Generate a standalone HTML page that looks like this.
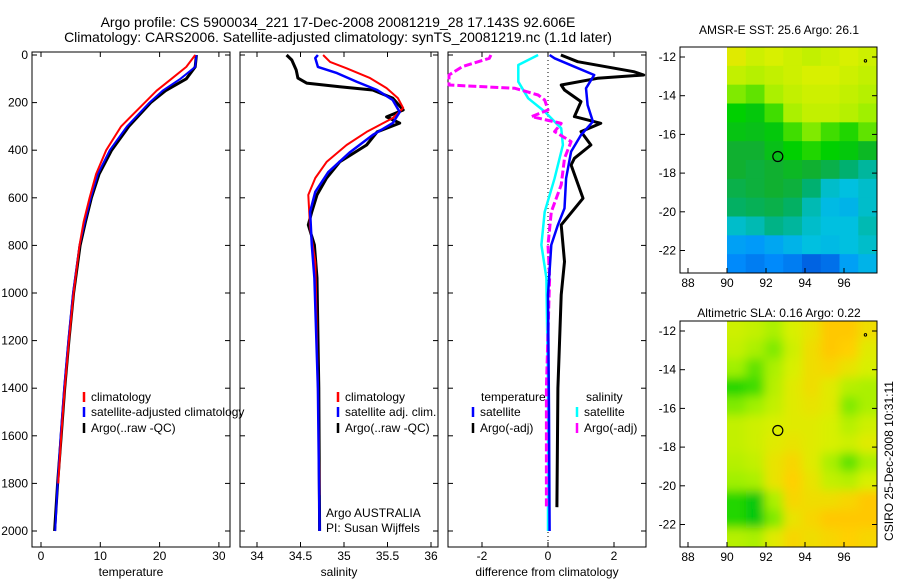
<!DOCTYPE html>
<html><head><meta charset="utf-8"><style>
body{margin:0;background:#fff;}
svg text{font-family:"Liberation Sans",sans-serif;}
</style></head><body>
<svg id="fig" width="900" height="580" xmlns="http://www.w3.org/2000/svg">
<rect width="900" height="580" fill="#fff"/>
<text x="338" y="27" font-size="14" text-anchor="middle">Argo profile: CS 5900034_221 17-Dec-2008 20081219_28 17.143S 92.606E</text>
<text x="338" y="42" font-size="14" text-anchor="middle">Climatology: CARS2006. Satellite-adjusted climatology: synTS_20081219.nc (1.1d later)</text>
<g id="g"></g>
<text x="779" y="34" font-size="12" text-anchor="middle">AMSR-E SST: 25.6 Argo: 26.1</text>
<text x="779" y="317" font-size="12" text-anchor="middle">Altimetric SLA: 0.16 Argo: 0.22</text>
<text transform="translate(893,461) rotate(-90)" font-size="12" text-anchor="middle">CSIRO 25-Dec-2008 10:31:11</text>
<text x="326" y="517" font-size="12">Argo AUSTRALIA</text>
<text x="326" y="532" font-size="12">PI: Susan Wijffels</text>
</svg>
<script>
// ---- data ----
const tDepth=[0,50,100,150,200,300,400,500,600,700,800,1000,1200,1400,1600,1800,2000];
const tClim=[26,24.5,22,19.5,17.5,13.5,11,9.3,8.2,7.2,6.5,5.5,4.7,4.0,3.4,2.9,null];
const tSat=[26.2,26,23.5,20.5,18.3,14.5,11.6,9.6,8.4,7.4,6.5,5.4,4.6,3.9,3.3,2.8,2.4];
const tArgo=[26.2,26,24.5,21,18.5,14.8,11.9,9.8,8.5,7.5,6.6,5.5,4.7,4.0,3.4,2.8,2.3];
const sArgoD=[0,21,63,97,118,133,147,181,231,260,286,323,378,449,517,588,659,714,798,937,1400,2000];
const sArgoV=[34.34,34.40,34.45,34.47,34.57,34.95,35.33,35.56,35.68,35.49,35.64,35.38,35.26,34.95,34.80,34.69,34.63,34.59,34.66,34.69,34.71,34.72];
const sClimD=[0,29,56,97,139,181,223,265,323,378,449,517,588,727,870,1400,1850];
const sClimV=[34.76,34.84,35.03,35.30,35.49,35.62,35.68,35.56,35.26,35.03,34.80,34.67,34.59,34.61,34.67,34.70,34.72];
const sSatD=[0,13,50,76,113,147,189,240,286,336,408,492,575,659,798,937,1400,2000];
const sSatV=[34.70,34.67,34.70,34.92,35.15,35.38,35.56,35.64,35.56,35.33,35.07,34.82,34.67,34.61,34.63,34.66,34.70,34.72];
const dTArgoD=[0,28,70,84,98,126,147,196,259,287,322,378,434,462,602,714,868,1008,1400,1900];
const dTArgoV=[0.39,0.9,2.6,2.9,1.5,0.4,0.5,1.0,0.8,1.6,1.0,1.3,0.8,0.7,1.06,0.4,0.5,0.4,0.3,0.27];
const dTSatD=[0,14,49,84,140,210,280,336,406,518,644,714,798,1008,1500,2000];
const dTSatV=[0.05,0.2,0.8,1.4,1.15,1.2,1.36,1.0,0.7,0.55,0.5,0.3,0.1,0.0,0.03,0.05];
const dSSatD=[0,42,112,182,238,308,378,518,659,798,937,1400,2000];
const dSSatV=[-0.3,-0.9,-0.9,-0.6,-0.1,0.4,0.45,0.2,-0.1,-0.2,-0.05,0.0,0.0];
const dSArgoD=[0,14,49,84,126,140,168,189,231,259,287,322,364,434,546,659,798,937,1400,1900];
const dSArgoV=[-1.73,-1.78,-2.6,-3,-3,-1.0,-0.3,-0.1,0,-0.5,0.4,0.2,0.7,0.5,0.4,0.1,0,0.05,-0.05,-0.05];
const depthTicks=[0,200,400,600,800,1000,1200,1400,1600,1800,2000];
const tTicks=[0,10,20,30];
const sTicks=[34,34.5,35,35.5,36];
const dTicks=[-2,0,2];
const lonTicks=[88,90,92,94,96];
const latTicks=[-12,-14,-16,-18,-20,-22];
const sst=[
[.8,.76,.78,.76,.74,.76,.78,.76],[.74,.72,.74,.76,.78,.78,.76,.74],[.66,.64,.7,.74,.76,.76,.74,.72],
[.58,.56,.62,.7,.74,.74,.72,.68],[.55,.54,.56,.62,.66,.62,.6,.64],[.5,.5,.54,.58,.6,.58,.56,.52],
[.5,.48,.5,.52,.5,.46,.4,.36],[.46,.48,.5,.48,.4,.32,.3,.32],[.42,.44,.46,.42,.34,.28,.26,.32],
[.32,.34,.38,.36,.32,.3,.3,.34],[.2,.18,.22,.26,.3,.28,.3,.32],[.14,.12,.14,.12,.08,.1,.2,.26]];
const sla=[
[.76,.74,.7,.78,.82,.9,.9,.84],[.74,.7,.66,.76,.84,.9,.88,.8],[.68,.64,.7,.78,.84,.86,.82,.78],
[.6,.62,.72,.8,.84,.8,.72,.7],[.66,.68,.74,.8,.82,.8,.66,.7],[.74,.76,.78,.8,.8,.78,.72,.76],
[.74,.76,.8,.82,.8,.78,.76,.8],[.72,.74,.82,.86,.8,.7,.64,.7],[.68,.7,.82,.88,.82,.74,.72,.78],
[.6,.56,.7,.86,.84,.84,.86,.9],[.6,.56,.66,.82,.86,.9,.9,.9],[.72,.7,.8,.86,.84,.86,.88,.86]];

const NS='http://www.w3.org/2000/svg';
const G=document.getElementById('g');
function mk(t,a,p){const e=document.createElementNS(NS,t);for(const k in a)e.setAttribute(k,a[k]);(p||G).appendChild(e);return e;}
const yD=d=>55+d*0.238;
const panels=[{x0:32,x1:230,f:v=>41+v*5.93,ticks:tTicks,label:'temperature'},
{x0:240,x1:438,f:v=>257+(v-34)*87,ticks:sTicks,label:'salinity'},
{x0:448,x1:646,f:v=>548+v*33,ticks:dTicks,label:'difference from climatology'}];
panels.forEach((p,i)=>{
  const box=mk('rect',{x:p.x0,y:52,width:p.x1-p.x0,height:495,fill:'none',stroke:'#000','stroke-width':1});
  
  
  depthTicks.forEach(d=>{
    const y=yD(d);
    const t1=mk('line',{x1:p.x0,x2:p.x0+5,y1:y,y2:y,stroke:'#000'});
    
    
    mk('line',{x1:p.x1,x2:p.x1-5,y1:y,y2:y,stroke:'#000'});
    if(i===0){const tx=mk('text',{x:p.x0-4,y:y+4,'font-size':12,'text-anchor':'end'});tx.textContent=d;
      
      }
  });
  p.ticks.forEach(v=>{
    const x=p.f(v);
    mk('line',{x1:x,x2:x,y1:547,y2:542,stroke:'#000'});
    mk('line',{x1:x,x2:x,y1:52,y2:57,stroke:'#000'});
    const tx=mk('text',{x:x,y:560,'font-size':12,'text-anchor':'middle'});tx.textContent=v;
    
    
  });
  const xl=mk('text',{x:(p.x0+p.x1)/2,y:576,'font-size':12,'text-anchor':'middle'});xl.textContent=p.label;
  
  
});
function line(p,D,V,col,w,name,dash){
  const pts=[];D.forEach((d,k)=>{if(V[k]!==null)pts.push(p.f(V[k]).toFixed(1)+','+yD(d).toFixed(1));});
  const e=mk('polyline',{points:pts.join(' '),fill:'none',stroke:col,'stroke-width':w,'stroke-linejoin':'round'});
  if(dash)e.setAttribute('stroke-dasharray',dash);
  
  
}
const z=mk('line',{x1:548,x2:548,y1:52,y2:547,stroke:'#000','stroke-dasharray':'1,3'});


line(panels[0],tDepth,tArgo,'#000',3,'temp-argo-line');
line(panels[0],tDepth,tSat,'#0000ff',2,'temp-satellite-line');
line(panels[0],tDepth.slice(0,16),tClim.slice(0,16),'#ff0000',2,'temp-climatology-line');
line(panels[1],sArgoD,sArgoV,'#000',3,'salinity-argo-line');
line(panels[1],sClimD,sClimV,'#ff0000',2,'salinity-climatology-line');
line(panels[1],sSatD,sSatV,'#0000ff',2.5,'salinity-satellite-line');
line(panels[2],dTArgoD,dTArgoV,'#000',3,'diff-temp-argo-line');
line(panels[2],dSSatD,dSSatV,'#00ffff',2.5,'diff-sal-satellite-line');
line(panels[2],dSArgoD,dSArgoV,'#ff00ff',3,'diff-sal-argo-line','8,3');
line(panels[2],dTSatD,dTSatV,'#0000ff',2.5,'diff-temp-satellite-line');
function leg(x,y,col,txt,name){
  const b=mk('line',{x1:x,x2:x,y1:y-9,y2:y+1,stroke:col,'stroke-width':2.5});
  
  
  const t=mk('text',{x:x+7,y:y,'font-size':12});t.textContent=txt;
  
  
}
leg(84,401,'#ff0000','climatology','legend-climatology');
leg(84,416,'#0000ff','satellite-adjusted climatology','legend-satellite');
leg(84,432,'#000','Argo(..raw -QC)','legend-argo');
leg(338,401,'#ff0000','climatology','legend-sal-climatology');
leg(338,416,'#0000ff','satellite adj. clim.','legend-sal-satellite');
leg(338,432,'#000','Argo(..raw -QC)','legend-sal-argo');
const tt=mk('text',{x:481,y:401,'font-size':12});tt.textContent='temperature';


const st=mk('text',{x:586,y:401,'font-size':12});st.textContent='salinity';


leg(473,416,'#0000ff','satellite','legend-diff-temp-satellite');
leg(473,432,'#000','Argo(-adj)','legend-diff-temp-argo');
leg(577,416,'#00ffff','satellite','legend-diff-sal-satellite');
leg(577,432,'#ff00ff','Argo(-adj)','legend-diff-sal-argo');
// custom colormap
const cStops=[[0,[0,48,192]],[0.15,[0,144,255]],[0.3,[0,192,224]],[0.4,[0,176,112]],[0.5,[16,176,48]],[0.58,[0,208,0]],[0.68,[160,240,0]],[0.78,[216,240,0]],[0.88,[255,208,0]],[1,[255,160,0]]];
function cmap(v){
  v=Math.max(0,Math.min(1,v));
  for(let i=1;i<cStops.length;i++){if(v<=cStops[i][0]){const a=cStops[i-1],b=cStops[i];const t=(v-a[0])/(b[0]-a[0]);
    return 'rgb('+[0,1,2].map(k=>Math.round(a[1][k]+(b[1][k]-a[1][k])*t)).join(',')+')';}}
  return 'rgb(255,160,0)';
}
const defs=mk('defs',{});
const flt=mk('filter',{id:'blur',x:'-10%',y:'-10%',width:'120%',height:'120%'},defs);
mk('feGaussianBlur',{stdDeviation:5},flt);
function map(top,data,name,smooth){
  const lonX=l=>727+(l-90)*19.5;
  const latY=a=>top+10+(-12-a)*19.35;
  const x0=680,x1=877,y0=top,y1=top+226;
  const cp=mk('clipPath',{id:'cp'+name},defs);
  mk('rect',{x:727,y:y0,width:x1-727,height:y1-y0},cp);
  const g=mk('g',{'clip-path':'url(#cp'+name+')'});
  const g2=mk('g',smooth?{filter:'url(#blur)'}:{},g);
  const rows=data.length,cols=data[0].length;
  const cw=(x1-727)/cols,ch=(y1-y0)/rows;
  data.forEach((r,i)=>r.forEach((v,j)=>{
    const ex=(smooth&&j===cols-1)?10:0, ey=(smooth&&i===rows-1)?10:0;
    const c=mk('rect',{x:727+j*cw-(smooth&&j===0?10:0),y:y0+i*ch-(smooth&&i===0?10:0),width:cw+0.5+ex+(smooth&&j===0?10:0),height:ch+0.5+ey+(smooth&&i===0?10:0),fill:cmap(v)},g2);
    
    
  }));
  const b=mk('rect',{x:x0,y:y0,width:x1-x0,height:y1-y0,fill:'none',stroke:'#000'});
  
  
  lonTicks.forEach(l=>{const x=lonX(l);mk('line',{x1:x,x2:x,y1:y1,y2:y1-5,stroke:'#000'});
    const t=mk('text',{x:x,y:y1+14,'font-size':12,'text-anchor':'middle'});t.textContent=l;
    
    });
  latTicks.forEach(a=>{const y=latY(a);mk('line',{x1:x0,x2:x0+5,y1:y,y2:y,stroke:'#000'});mk('line',{x1:x1,x2:x1-5,y1:y,y2:y,stroke:'#000'});
    const t=mk('text',{x:x0-4,y:y+4,'font-size':12,'text-anchor':'end'});t.textContent=a;
    
    });
  const c=mk('circle',{cx:lonX(92.606),cy:latY(-17.143),r:5,fill:'none',stroke:'#000','stroke-width':1.2});
  
  
  mk('circle',{cx:lonX(97.1),cy:latY(-12.2),r:1.2,fill:'none',stroke:'#000'});
}
map(47,sst,'sst',false);
map(321,sla,'sla',true);
</script>
</body></html>
